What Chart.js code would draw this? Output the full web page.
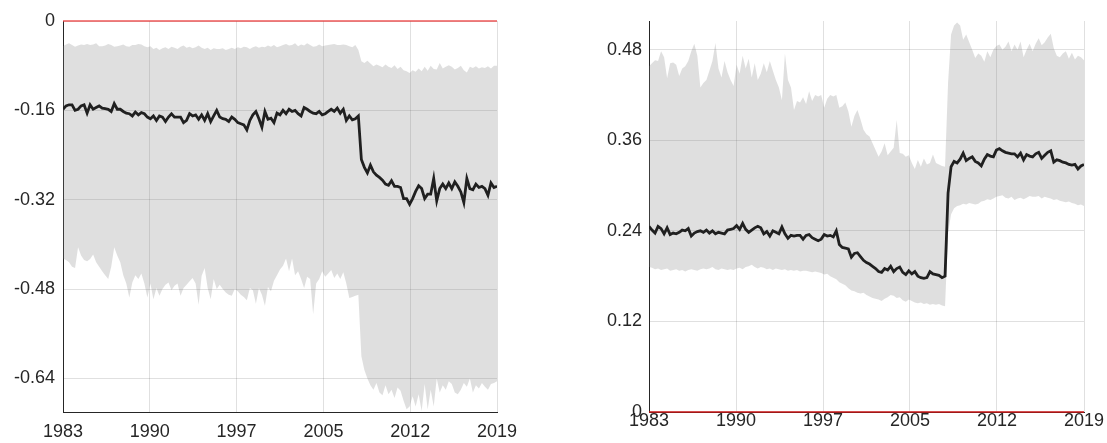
<!DOCTYPE html>
<html>
<head>
<meta charset="utf-8">
<script src="https://cdn.jsdelivr.net/npm/chart.js@4"></script>
<style>
  html, body { margin: 0; padding: 0; background: #fff; }
  body { width: 1107px; height: 443px; position: relative; overflow: hidden; }
  .panel { position: absolute; top: 0; height: 443px; }
  #leftBox { left: 0; width: 520px; }
  #rightBox { left: 560px; width: 547px; }
</style>
</head>
<body>
<div class="panel" id="leftBox"><canvas id="leftChart"></canvas></div>
<div class="panel" id="rightBox"><canvas id="rightChart"></canvas></div>
<script>
// quarterly series, 1983Q1 .. 2019Q1
const startYear = 1983;
const stepYear = 0.25;

const xTickValues = [1983, 1990.2, 1997.4, 2004.6, 2011.8, 2019];
const xTickLabels = ['1983', '1990', '1997', '2005', '2012', '2019'];

const leftTicks = [0, -0.16, -0.32, -0.48, -0.64];
const rightTicks = [0, 0.12, 0.24, 0.36, 0.48];

// left panel
const leftMean = [
  -0.158, -0.152, -0.150, -0.150, -0.160, -0.158, -0.152, -0.150,
  -0.165, -0.150, -0.158, -0.155, -0.152, -0.156, -0.157, -0.158,
  -0.162, -0.148, -0.158, -0.158, -0.162, -0.165, -0.166, -0.170,
  -0.163, -0.168, -0.164, -0.166, -0.172, -0.175, -0.170, -0.178,
  -0.170, -0.172, -0.180, -0.172, -0.166, -0.172, -0.172, -0.172,
  -0.182, -0.178, -0.166, -0.170, -0.168, -0.176, -0.168, -0.178,
  -0.166, -0.180, -0.170, -0.160, -0.172, -0.175, -0.176, -0.180,
  -0.172, -0.176, -0.182, -0.184, -0.186, -0.195, -0.178, -0.168,
  -0.162, -0.175, -0.190, -0.162, -0.176, -0.174, -0.182, -0.165,
  -0.168, -0.160, -0.166, -0.158, -0.162, -0.160, -0.166, -0.170,
  -0.155, -0.158, -0.162, -0.165, -0.166, -0.162, -0.168, -0.166,
  -0.162, -0.158, -0.162, -0.156, -0.165, -0.158, -0.178, -0.170,
  -0.177, -0.175, -0.170, -0.248, -0.262, -0.272, -0.258, -0.270,
  -0.276, -0.280, -0.285, -0.292, -0.294, -0.286, -0.296, -0.296,
  -0.298, -0.318, -0.318, -0.328, -0.318, -0.305, -0.295, -0.300,
  -0.318, -0.310, -0.310, -0.282, -0.322, -0.300, -0.292, -0.300,
  -0.290, -0.300, -0.288, -0.296, -0.306, -0.325, -0.282, -0.300,
  -0.302, -0.292, -0.298, -0.296, -0.300, -0.312, -0.290, -0.298,
  -0.296
];
const leftUpper = [
  -0.045, -0.042, -0.040, -0.043, -0.046, -0.044, -0.042, -0.043,
  -0.041, -0.043, -0.042, -0.040, -0.045, -0.045, -0.044, -0.041,
  -0.043, -0.046, -0.045, -0.044, -0.042, -0.045, -0.046, -0.043,
  -0.043, -0.041, -0.042, -0.045, -0.047, -0.045, -0.050, -0.048,
  -0.052, -0.049, -0.047, -0.050, -0.046, -0.048, -0.050, -0.046,
  -0.044, -0.048, -0.046, -0.049, -0.047, -0.044, -0.048, -0.050,
  -0.048, -0.052, -0.049, -0.050, -0.050, -0.049, -0.052, -0.050,
  -0.048, -0.050, -0.047, -0.049, -0.046, -0.047, -0.050, -0.047,
  -0.045, -0.048, -0.046, -0.047, -0.044, -0.046, -0.043, -0.047,
  -0.045, -0.043, -0.041, -0.044, -0.043, -0.040, -0.045, -0.042,
  -0.044, -0.040, -0.043, -0.046, -0.045, -0.042, -0.045, -0.044,
  -0.043, -0.042, -0.041, -0.043, -0.043, -0.042, -0.043, -0.045,
  -0.047, -0.043, -0.052, -0.072, -0.075, -0.071, -0.076, -0.081,
  -0.078, -0.080, -0.083, -0.078, -0.082, -0.084, -0.079, -0.086,
  -0.082, -0.088, -0.090, -0.093, -0.088, -0.091, -0.085, -0.090,
  -0.082, -0.089, -0.080, -0.086, -0.087, -0.075, -0.085, -0.082,
  -0.079, -0.082, -0.087, -0.084, -0.080, -0.088, -0.092, -0.082,
  -0.084, -0.081, -0.085, -0.083, -0.084, -0.081, -0.085, -0.080,
  -0.080
];
const leftLower = [
  -0.425, -0.428, -0.432, -0.440, -0.442, -0.405, -0.420, -0.428,
  -0.430, -0.426, -0.418, -0.432, -0.440, -0.448, -0.455, -0.462,
  -0.440, -0.405, -0.420, -0.432, -0.455, -0.470, -0.495, -0.468,
  -0.455, -0.462, -0.452, -0.470, -0.495, -0.470, -0.498, -0.478,
  -0.492, -0.480, -0.472, -0.468, -0.482, -0.474, -0.470, -0.492,
  -0.478, -0.472, -0.466, -0.460, -0.470, -0.508, -0.456, -0.442,
  -0.478, -0.498, -0.462, -0.480, -0.472, -0.480, -0.486, -0.490,
  -0.492, -0.480, -0.484, -0.490, -0.494, -0.500, -0.478, -0.482,
  -0.506, -0.478, -0.490, -0.510, -0.476, -0.484, -0.465, -0.455,
  -0.445, -0.438, -0.425, -0.448, -0.425, -0.455, -0.448, -0.462,
  -0.478, -0.458, -0.462, -0.525, -0.470, -0.462, -0.448, -0.458,
  -0.452, -0.446, -0.460, -0.452, -0.462, -0.450, -0.470, -0.496,
  -0.494, -0.492, -0.490, -0.600, -0.625, -0.640, -0.652, -0.660,
  -0.648, -0.665, -0.670, -0.652, -0.668, -0.660, -0.675, -0.656,
  -0.662, -0.680, -0.695, -0.690, -0.672, -0.690, -0.668, -0.698,
  -0.650, -0.695, -0.660, -0.690, -0.640, -0.665, -0.652, -0.660,
  -0.645, -0.650, -0.665, -0.668, -0.660, -0.648, -0.655, -0.640,
  -0.665, -0.652, -0.658, -0.648, -0.655, -0.660, -0.650, -0.648,
  -0.645
];

// right panel
const rightMean = [
  0.246, 0.241, 0.237, 0.246, 0.243, 0.236, 0.244, 0.235,
  0.237, 0.236, 0.238, 0.241, 0.240, 0.243, 0.233, 0.237,
  0.239, 0.240, 0.238, 0.241, 0.237, 0.240, 0.236, 0.238,
  0.237, 0.236, 0.241, 0.242, 0.243, 0.247, 0.242, 0.250,
  0.242, 0.238, 0.241, 0.244, 0.246, 0.244, 0.236, 0.239,
  0.233, 0.240, 0.238, 0.236, 0.245, 0.236, 0.230, 0.234,
  0.233, 0.234, 0.234, 0.229, 0.234, 0.235, 0.231, 0.229,
  0.227, 0.229, 0.235, 0.233, 0.234, 0.232, 0.240, 0.222,
  0.218, 0.217, 0.216, 0.205, 0.210, 0.211, 0.206, 0.201,
  0.198, 0.196, 0.193, 0.190, 0.186, 0.185, 0.190, 0.188,
  0.193, 0.186, 0.190, 0.192, 0.185, 0.182, 0.187, 0.183,
  0.186, 0.180, 0.178, 0.177, 0.178, 0.186, 0.183, 0.182,
  0.181, 0.178, 0.180, 0.290, 0.325, 0.332, 0.330, 0.335,
  0.343, 0.333, 0.336, 0.338, 0.332, 0.330, 0.326, 0.335,
  0.341, 0.339, 0.338, 0.347, 0.349, 0.346, 0.344, 0.343,
  0.342, 0.342, 0.338, 0.343, 0.334, 0.341, 0.339, 0.338,
  0.342, 0.344, 0.336, 0.340, 0.344, 0.346, 0.331, 0.334,
  0.333, 0.331, 0.330, 0.328, 0.327, 0.328, 0.322, 0.326,
  0.328
];
const rightUpper = [
  0.458, 0.462, 0.466, 0.465, 0.478, 0.470, 0.442, 0.462,
  0.463, 0.460, 0.445, 0.455, 0.458, 0.465, 0.478, 0.488,
  0.472, 0.430, 0.436, 0.440, 0.452, 0.465, 0.489, 0.455,
  0.443, 0.465, 0.450, 0.440, 0.432, 0.460, 0.448, 0.472,
  0.455, 0.468, 0.443, 0.462, 0.440, 0.448, 0.462, 0.450,
  0.465, 0.452, 0.440, 0.430, 0.413, 0.475, 0.440, 0.430,
  0.400, 0.412, 0.410, 0.417, 0.408, 0.425, 0.412, 0.420,
  0.418, 0.420, 0.403, 0.415, 0.420, 0.418, 0.420, 0.403,
  0.405, 0.410, 0.398, 0.378, 0.392, 0.400, 0.388, 0.374,
  0.368, 0.365, 0.356, 0.347, 0.338, 0.345, 0.356, 0.340,
  0.345, 0.350, 0.387, 0.343, 0.342, 0.338, 0.340, 0.330,
  0.322, 0.334, 0.325, 0.336, 0.328, 0.330, 0.341, 0.330,
  0.328, 0.326, 0.325, 0.436, 0.500, 0.512, 0.516, 0.512,
  0.493, 0.500, 0.490, 0.480, 0.469, 0.475, 0.472, 0.464,
  0.478, 0.470, 0.480, 0.485, 0.487, 0.480, 0.484, 0.491,
  0.478, 0.487, 0.480, 0.491, 0.470, 0.480, 0.488, 0.478,
  0.488, 0.495, 0.486, 0.490, 0.496, 0.501, 0.482, 0.472,
  0.470, 0.475, 0.478, 0.468, 0.476, 0.467, 0.472, 0.470,
  0.466
];
const rightLower = [
  0.192, 0.191, 0.189, 0.190, 0.188, 0.189, 0.190, 0.187,
  0.188, 0.189, 0.187, 0.188, 0.186, 0.188, 0.189, 0.188,
  0.187, 0.189, 0.190, 0.189, 0.190, 0.192, 0.189, 0.188,
  0.190, 0.189, 0.188, 0.189, 0.188, 0.190, 0.191, 0.189,
  0.192, 0.193, 0.195, 0.192, 0.190, 0.192, 0.191, 0.189,
  0.190, 0.188, 0.190, 0.189, 0.188, 0.189, 0.187, 0.188,
  0.187, 0.188, 0.186, 0.187, 0.187, 0.186, 0.185, 0.186,
  0.185, 0.184, 0.182, 0.183, 0.180, 0.178, 0.176, 0.172,
  0.170, 0.168, 0.164, 0.161, 0.160, 0.158, 0.157, 0.158,
  0.155, 0.153, 0.151, 0.150, 0.149, 0.147, 0.150, 0.152,
  0.155, 0.154, 0.151, 0.152, 0.148, 0.146, 0.149, 0.147,
  0.145, 0.144, 0.145, 0.143, 0.144, 0.142, 0.143, 0.142,
  0.143, 0.141, 0.140, 0.237, 0.262, 0.270, 0.273, 0.274,
  0.276, 0.275, 0.277, 0.276, 0.275, 0.276, 0.279, 0.280,
  0.282, 0.281, 0.283, 0.285, 0.286, 0.287, 0.284, 0.283,
  0.285, 0.281, 0.283, 0.284, 0.282, 0.284, 0.286, 0.285,
  0.285, 0.286, 0.283, 0.285, 0.284, 0.283, 0.281, 0.282,
  0.280, 0.279, 0.278, 0.279, 0.277, 0.276, 0.274, 0.275,
  0.273
];

const zeroLine = [0, 0];

const FONT = "'Liberation Sans', Arial, Helvetica, sans-serif";
const AXIS_COLOR = '#262626';
const GRID_COLOR = 'rgba(0,0,0,0.12)';
const BAND_COLOR = 'rgba(128,128,128,0.25)';

function toPoints(values) {
  return values.map((v, i) => ({ x: startYear + i * stepYear, y: v }));
}

function makePanel(canvasId, mean, lower, upper, yTicks, yMin, yMax, opts) {
  const ctx = document.getElementById(canvasId).getContext('2d');
  const lastYear = xTickValues[xTickValues.length - 1];
  return new Chart(ctx, {
    type: 'line',
    data: {
      datasets: [
        {
          data: toPoints(lower),
          borderWidth: 0,
          pointRadius: 0,
          fill: false
        },
        {
          data: toPoints(upper),
          borderWidth: 0,
          pointRadius: 0,
          backgroundColor: BAND_COLOR,
          fill: '-1'
        },
        {
          data: toPoints(mean),
          borderColor: '#000',
          borderWidth: 2.8,
          pointRadius: 0,
          tension: 0,
          fill: false
        },
        {
          // zero reference line, drawn last so it sits over the axis
          data: [{ x: startYear, y: zeroLine[0] }, { x: lastYear, y: zeroLine[1] }],
          borderColor: opts.zeroColor,
          borderWidth: 1.3,
          pointRadius: 0,
          fill: false,
          clip: 3,
          order: -1
        }
      ]
    },
    options: {
      responsive: true,
      maintainAspectRatio: false,
      animation: false,
      events: [],
      layout: { padding: { top: 21, right: 23, bottom: 0, left: 0 } },
      plugins: { legend: { display: false }, tooltip: { enabled: false } },
      scales: {
        x: {
          type: 'linear',
          min: startYear,
          max: lastYear,
          afterBuildTicks: (s) => { s.ticks = xTickValues.map(v => ({ value: v })); },
          afterFit: (s) => { s.height = 31; s.paddingLeft = 0; s.paddingRight = 0; },
          ticks: {
            autoSkip: false,
            maxRotation: 0,
            padding: opts.xPad,
            color: AXIS_COLOR,
            font: { family: FONT, size: 18 },
            callback: (v, i) => xTickLabels[i]
          },
          grid: { color: GRID_COLOR, drawTicks: false },
          border: { display: true, color: AXIS_COLOR, width: 1 }
        },
        y: {
          min: yMin,
          max: yMax,
          afterBuildTicks: (s) => { s.ticks = yTicks.map(v => ({ value: v })); },
          afterFit: (s) => { s.width = opts.yWidth; },
          ticks: {
            padding: opts.yPad,
            color: AXIS_COLOR,
            font: { family: FONT, size: 18 },
            callback: (v) => String(v)
          },
          grid: { color: GRID_COLOR, drawTicks: false },
          border: { display: true, color: AXIS_COLOR, width: 1 }
        }
      }
    }
  });
}

makePanel('leftChart', leftMean, leftLower, leftUpper, leftTicks, -0.70, 0,
  { yWidth: 63, yPad: 8, xPad: 9, zeroColor: 'rgba(235,70,70,0.9)' });
makePanel('rightChart', rightMean, rightLower, rightUpper, rightTicks, 0, 0.518,
  { yWidth: 89, yPad: 7, xPad: -2, zeroColor: 'rgb(200,20,20)' });
</script>
</body>
</html>
